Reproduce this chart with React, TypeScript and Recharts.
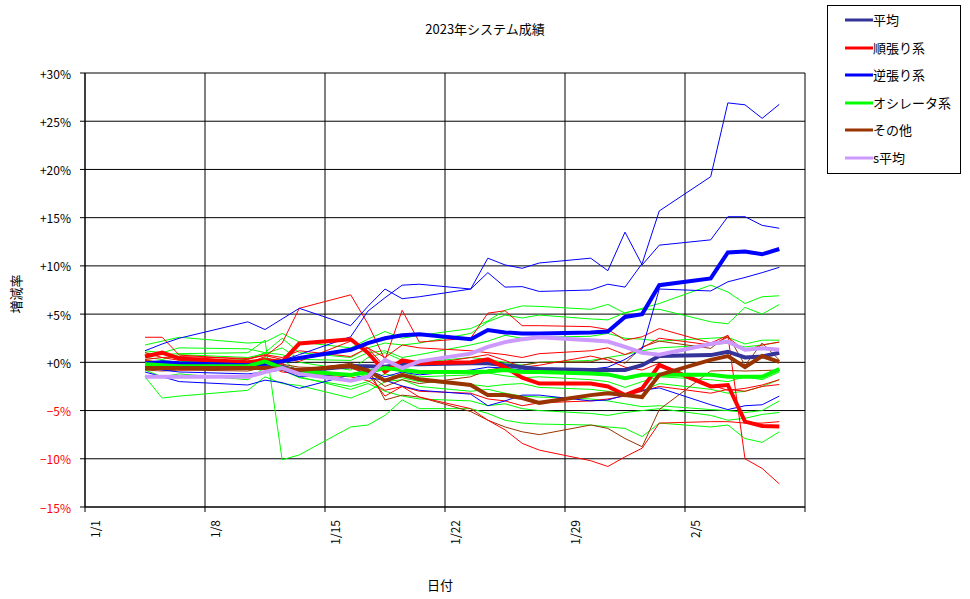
import { LineChart, Line, XAxis, YAxis, CartesianGrid } from 'recharts'

// ─── Data ─────────────────────────────────────────────────────────────────────

const DATES = [
  '1/4', '1/5', '1/6', '1/10', '1/11', '1/12', '1/13', '1/16', '1/17', '1/18', '1/19', '1/20',
  '1/23', '1/24', '1/25', '1/26', '1/27', '1/30', '1/31', '2/1', '2/2', '2/3',
  '2/6', '2/7', '2/8', '2/9', '2/10',
]

// group averages (thick lines)
const HEIKIN = [-0.3, -0.4, -0.4, -0.5, -0.4, -0.5, -0.9, -0.4, -0.4, -0.45, -0.2, -0.2, -0.1, -0.1, -0.3, -0.5, -0.7, -0.8, -0.8, -0.8, -0.3, 0.65, 0.75, 1.1, 0.5, 0.6, 1.0]
const JUNBARI = [0.6, 1.0, 0.4, 0.0, 0.25, 0.05, 1.95, 2.4, 1.0, -1.0, 0.2, -0.1, 0.0, 0.3, -0.5, -1.6, -2.2, -2.2, -2.5, -3.4, -2.7, -0.3, -2.5, -2.35, -6.15, -6.6, -6.65]
const GYAKUBARI = [-0.1, 0.0, -0.1, -0.3, -0.1, 0.1, 0.45, 1.3, 2.0, 2.5, 2.8, 2.9, 2.4, 3.35, 3.1, 3.0, 3.0, 3.1, 3.2, 4.7, 5.0, 8.0, 8.7, 11.4, 11.5, 11.2, 11.75]
const OSC = [-0.2, -0.3, -0.4, -0.4, 0.1, -0.6, -0.9, -1.3, -1.0, -0.6, -0.8, -1.0, -1.0, -0.95, -0.8, -1.0, -1.0, -1.15, -1.25, -1.65, -1.3, -1.3, -1.3, -1.5, -1.5, -1.5, -0.7]
const SONOTA = [-0.6, -0.6, -0.6, -0.6, -0.6, -0.7, -0.8, -0.35, -0.85, -1.9, -1.3, -1.75, -2.35, -3.4, -3.4, -3.7, -4.2, -3.4, -3.2, -3.4, -3.6, -1.3, 0.25, 0.65, -0.5, 0.65, 0.05]
const S_HEIKIN = [-1.5, -1.5, -1.5, -1.5, -1.0, -0.6, -1.2, -1.9, -1.5, 0.25, -0.6, 0.1, 0.9, 1.6, 2.1, 2.4, 2.6, 2.3, 2.15, 1.6, 1.0, 0.8, 1.9, 2.15, 1.3, 1.45, 1.3]

// individual systems (thin lines)
const BLUE_A = [-0.3, -0.2, -0.3, -0.5, -0.2, 0.2, 0.8, 2.65, 5.3, 6.7, 8.0, 8.1, 7.6, 9.3, 7.8, 7.85, 7.35, 7.5, 8.1, 7.8, 10.25, 15.7, 19.25, 26.9, 26.7, 25.3, 26.75]
const BLUE_B = [1.2, 1.9, 2.5, 4.2, 3.4, 4.5, 5.6, 3.8, 5.8, 7.6, 6.6, 6.8, 7.6, 10.8, 10.1, 9.75, 10.3, 10.8, 9.5, 13.5, 10.1, 12.15, 12.7, 15.1, 15.1, 14.2, 13.9]
const BLUE_C = [-0.5, -0.8, -1.0, -1.2, -1.0, -0.8, -1.5, -1.2, -0.8, -1.5, -1.0, -1.3, -0.8, -0.5, -0.6, -0.8, -0.6, -0.7, -0.5, 0.3, 1.4, 7.6, 7.4, 8.35, 8.8, 9.3, 9.85]
const BLUE_D = [-1.0, -1.5, -2.0, -2.35, -1.85, -2.1, -2.7, -1.3, -1.6, -1.85, -2.45, -2.9, -3.3, -4.5, -4.0, -3.4, -3.4, -4.0, -3.9, -3.4, -2.9, -2.65, -4.4, -4.9, -4.5, -4.4, -3.5]

const RED_A = [2.6, 2.6, 0.75, 0.3, 0.8, 0.5, 1.2, 0.6, 1.5, -0.5, 0.0, -0.3, 0.5, 0.8, 0.2, -0.5, -0.3, 0.65, 0.25, -0.5, -0.8, -0.1, -2.35, -2.9, -2.7, -2.35, -1.8]
const RED_B = [0.3, 0.5, 0.2, -0.1, 0.6, 2.0, 5.6, 7.0, 4.0, 0.25, 5.4, 2.1, 2.5, 5.1, 5.35, 3.8, 3.8, 3.7, 3.4, 2.3, 2.65, 3.5, 2.0, 2.8, -10.0, -11.0, -12.6]
const RED_C = [-0.5, -0.3, -0.8, -0.6, -0.3, -1.0, -1.2, -1.5, -1.9, -2.9, -2.5, -3.6, -4.8, -6.0, -7.0, -8.4, -9.1, -10.2, -10.8, -9.8, -8.9, -6.3, -6.15, -6.15, -6.3, -6.3, -6.15]
const RED_D = [0.2, 0.0, -0.3, -0.5, 0.0, -0.3, -0.8, -0.5, -1.2, -3.5, -2.5, -3.0, -3.2, -3.8, -4.0, -4.5, -4.2, -4.0, -3.8, -3.5, -3.0, -2.5, -3.2, -2.8, -3.0, -2.5, -2.3]
const RED_E = [1.0, 0.5, 0.6, 0.4, 0.7, 0.3, 0.1, 2.2, 1.5, 0.5, 1.8, 1.5, 1.2, 1.0, 0.8, 0.5, 0.9, 1.2, 1.5, 0.8, 1.5, 2.5, 1.8, 2.6, 1.2, 1.8, 2.1]

const GREEN_A = [1.0, 0.8, 0.9, 1.0, 2.3, -10.1, -9.6, -6.7, -6.5, -5.5, -3.9, -4.8, -4.8, -5.3, -6.0, -6.3, -6.4, -6.5, -6.7, -6.85, -7.7, -6.3, -6.7, -6.5, -7.9, -8.3, -7.2]
const GREEN_B = [-1.5, -3.7, -3.5, -2.9, -1.5, -2.2, -2.4, -3.7, -3.0, -2.0, -1.8, -2.5, -3.0, -2.8, -3.2, -3.5, -3.6, -3.8, -4.0, -4.3, -4.6, -4.5, -4.9, -5.0, -5.2, -5.0, -4.0]
const GREEN_C = [1.8, 2.2, 2.6, 2.0, 2.1, 3.0, 2.1, 1.5, 2.4, 3.2, 2.5, 2.8, 3.5, 4.3, 5.4, 5.85, 5.8, 5.5, 6.0, 5.1, 5.6, 6.1, 8.0, 7.3, 6.1, 6.8, 6.9]
const GREEN_D = [1.2, 1.0, 1.5, 1.4, 1.0, 2.5, 1.0, 0.5, 1.5, 2.0, 1.8, 2.0, 3.0, 4.2, 4.9, 4.6, 4.9, 4.5, 4.4, 5.15, 5.5, 5.5, 4.2, 4.0, 5.7, 5.0, 6.0]
const GREEN_E = [0.5, 0.3, 0.8, 0.5, 0.9, 1.5, 0.3, 0.2, 1.0, 1.2, 0.5, 0.8, 1.8, 2.2, 2.8, 2.5, 2.6, 2.7, 3.0, 2.5, 2.4, 2.2, 2.5, 2.6, 1.9, 2.3, 2.3]
const GREEN_F = [0.0, -0.5, -0.3, -0.6, 0.2, 0.3, -1.0, -1.8, -1.2, -0.5, -1.0, -1.5, -1.3, -1.1, -1.4, -1.6, -1.5, -1.8, -2.0, -2.6, -2.0, -1.5, -1.8, -2.0, -1.5, -1.8, -1.0]
const GREEN_G = [-0.8, -1.5, -1.2, -1.8, -0.5, -0.8, -1.6, -2.5, -2.0, -1.2, -1.6, -2.0, -2.3, -2.5, -2.3, -2.2, -2.6, -2.8, -3.0, -3.3, -3.0, -2.2, -2.8, -3.2, -3.0, -2.5, -1.8]
const GREEN_H = [-0.3, 0.2, 0.0, 0.3, 1.0, 0.8, 0.0, -0.8, 0.5, 1.0, 0.2, 0.0, 0.5, 0.3, 0.0, -0.3, 0.0, 0.2, 0.5, 0.8, 1.2, 1.5, 1.8, 2.0, 1.6, 1.8, 2.1]
const GREEN_I = [0.3, -0.2, 0.1, -0.2, 0.5, 0.0, -1.5, -2.8, -2.2, -3.0, -3.5, -3.8, -4.0, -4.5, -4.3, -4.8, -5.0, -5.3, -5.5, -5.2, -5.0, -4.8, -5.5, -6.0, -5.8, -5.4, -5.2]

const BROWN_A = [-0.8, -0.9, -0.8, -0.9, -0.5, -0.7, -0.8, -0.1, -0.6, -3.9, -3.4, -3.6, -5.1, -6.0, -6.7, -7.2, -7.5, -6.5, -6.85, -7.9, -8.75, -4.9, -0.9, -0.85, -0.9, -0.85, -0.8]
const BROWN_B = [-0.3, -0.5, -0.4, -0.6, 0.0, -0.2, -0.5, -0.6, -1.2, -2.5, -1.8, -2.2, -1.5, -0.8, -0.5, -0.3, 0.0, 0.05, 0.5, -0.1, 1.6, 2.2, 1.45, 2.8, -0.3, 2.0, 0.25]

const X_TICKS = [0, 7, 14, 21, 28, 35, 42]
const X_TICK_LABELS = ['1/1', '1/8', '1/15', '1/22', '1/29', '2/5', '']
const Y_TICKS = [-15, -10, -5, 0, 5, 10, 15, 20, 25, 30]
const Y_TICK_LABELS = ['−15%', '−10%', '−5%', '+0%', '+5%', '+10%', '+15%', '+20%', '+25%', '+30%']

// ─── Series ───────────────────────────────────────────────────────────────────

const BLUE = '#0000FF'
const RED = '#FF0000'
const GREEN = '#00FF00'
const BROWN = '#993300'

const THIN = [
  { key: 'gA', color: GREEN, values: GREEN_A },
  { key: 'gB', color: GREEN, values: GREEN_B },
  { key: 'gC', color: GREEN, values: GREEN_C },
  { key: 'gD', color: GREEN, values: GREEN_D },
  { key: 'gE', color: GREEN, values: GREEN_E },
  { key: 'gF', color: GREEN, values: GREEN_F },
  { key: 'gG', color: GREEN, values: GREEN_G },
  { key: 'gH', color: GREEN, values: GREEN_H },
  { key: 'gI', color: GREEN, values: GREEN_I },
  { key: 'brA', color: BROWN, values: BROWN_A },
  { key: 'brB', color: BROWN, values: BROWN_B },
  { key: 'rA', color: RED, values: RED_A },
  { key: 'rB', color: RED, values: RED_B },
  { key: 'rC', color: RED, values: RED_C },
  { key: 'rD', color: RED, values: RED_D },
  { key: 'rE', color: RED, values: RED_E },
  { key: 'bA', color: BLUE, values: BLUE_A },
  { key: 'bB', color: BLUE, values: BLUE_B },
  { key: 'bC', color: BLUE, values: BLUE_C },
  { key: 'bD', color: BLUE, values: BLUE_D },
]

const THICK = [
  { key: 'heikin', name: '平均', color: '#333399', values: HEIKIN },
  { key: 'junbari', name: '順張り系', color: RED, values: JUNBARI },
  { key: 'gyakubari', name: '逆張り系', color: BLUE, values: GYAKUBARI },
  { key: 'osc', name: 'オシレータ系', color: GREEN, values: OSC },
  { key: 'sonota', name: 'その他', color: BROWN, values: SONOTA },
  { key: 'sheikin', name: 's平均', color: '#CC99FF', values: S_HEIKIN },
]

function dayOfYear(label: string) {
  const [m, d] = label.split('/').map(Number)
  return (m === 2 ? 31 : 0) + d - 1
}

const rows = DATES.map((date, i) => {
  const row: Record<string, number | string> = { date, x: dayOfYear(date) + 0.5 }
  for (const s of [...THIN, ...THICK]) row[s.key] = s.values[i]
  return row
})

// ─── Ticks ────────────────────────────────────────────────────────────────────

const FONT = "'Noto Sans CJK JP', 'Noto Sans', sans-serif"

function XTick({ x, payload }: any) {
  const label = X_TICK_LABELS[X_TICKS.indexOf(payload.value)] ?? ''
  return (
    <text
      transform={`translate(${x + 9},520) rotate(-90)`}
      textAnchor="end"
      dominantBaseline="central"
      fontSize={12}
      fontFamily={FONT}
      fill="#000"
    >
      {label}
    </text>
  )
}

function YTick({ x, y, payload }: any) {
  const idx = Y_TICKS.indexOf(payload.value)
  return (
    <text
      x={x}
      y={y}
      textAnchor="end"
      dominantBaseline="central"
      fontSize={12}
      fontFamily={FONT}
      fill={payload.value < 0 ? '#FF0000' : '#000'}
    >
      {Y_TICK_LABELS[idx]}
    </text>
  )
}

// ─── App ──────────────────────────────────────────────────────────────────────

export default function App() {
  return (
    <div style={{ position: 'absolute', left: 0, top: 0, width: 970, height: 599, background: '#fff', fontFamily: FONT }}>
      <LineChart
        width={970}
        height={599}
        data={rows}
        margin={{ top: 73, right: 165, bottom: 42, left: 0 }}
      >
        <CartesianGrid stroke="#000" strokeWidth={1} fill="none" />
        <XAxis
          dataKey="x"
          type="number"
          domain={[0, 42]}
          ticks={X_TICKS}
          interval={0}
          height={50}
          tickSize={5}
          tick={<XTick />}
          axisLine={{ stroke: '#000' }}
          tickLine={{ stroke: '#000' }}
        />
        <YAxis
          type="number"
          domain={[-15, 30]}
          ticks={Y_TICKS}
          interval={0}
          width={85}
          tickSize={5}
          tickMargin={9}
          tick={<YTick />}
          axisLine={{ stroke: '#000' }}
          tickLine={{ stroke: '#000' }}
        />
        {THIN.map((s) => (
          <Line
            key={s.key}
            dataKey={s.key}
            type="linear"
            stroke={s.color}
            strokeWidth={1}
            dot={false}
            isAnimationActive={false}
          />
        ))}
        {THICK.map((s) => (
          <Line
            key={s.key}
            dataKey={s.key}
            name={s.name}
            type="linear"
            stroke={s.color}
            strokeWidth={4}
            dot={false}
            isAnimationActive={false}
          />
        ))}
      </LineChart>

      <div style={{ position: 'absolute', left: 0, width: 970, top: 19, textAlign: 'center', fontSize: 13, color: '#000' }}>
        2023年システム成績
      </div>
      <div style={{ position: 'absolute', left: 420, width: 40, top: 575, textAlign: 'center', fontSize: 13 }}>
        日付
      </div>
      <div
        style={{
          position: 'absolute',
          left: 15,
          top: 294,
          fontSize: 13,
          whiteSpace: 'nowrap',
          transform: 'translate(-50%, -50%) rotate(-90deg)',
        }}
      >
        増減率
      </div>

      <div
        style={{
          position: 'absolute',
          left: 827,
          top: 5,
          width: 132,
          height: 167,
          border: '1px solid #000',
          background: '#fff',
        }}
      >
        {THICK.map((s, i) => (
          <div key={s.key} style={{ position: 'absolute', left: 17, top: 6 + i * 27.5, height: 16, display: 'flex', alignItems: 'center' }}>
            <svg width={28} height={6}>
              <line x1={0} y1={3} x2={28} y2={3} stroke={s.color} strokeWidth={3} />
            </svg>
            <span style={{ fontSize: 13, lineHeight: '16px' }}>{s.name}</span>
          </div>
        ))}
      </div>
    </div>
  )
}
